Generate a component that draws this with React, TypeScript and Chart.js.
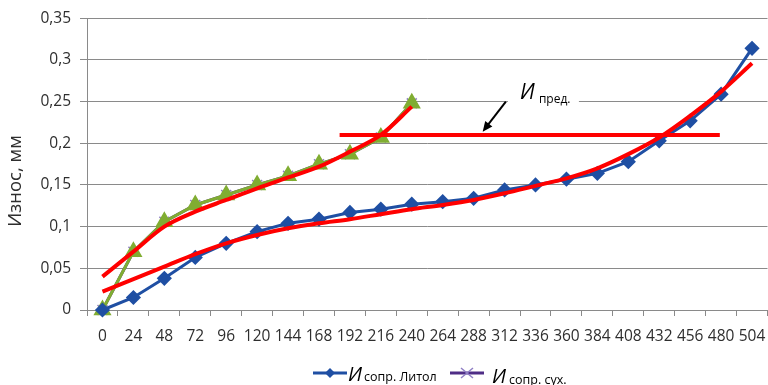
import { useEffect, useRef } from "react";
import { Chart, registerables } from "chart.js";

Chart.register(...registerables);

// Running time, h
const hours = [0, 24, 48, 72, 96, 120, 144, 168, 192, 216, 240, 264, 288, 312, 336, 360, 384, 408, 432, 456, 480, 504];

// Wear of the bushing with Litol grease, mm
const wearLitol = [0, 0.015, 0.038, 0.063, 0.08, 0.094, 0.104, 0.109, 0.117, 0.121, 0.127, 0.13, 0.134, 0.144, 0.15, 0.157, 0.164, 0.178, 0.203, 0.227, 0.259, 0.314];

// Wear of the bushing running dry, mm
const wearDry = [0, 0.07, 0.106, 0.126, 0.138, 0.15, 0.161, 0.175, 0.187, 0.207, 0.248];
const wearDryRun = [0, 0.07, 0.106, 0.126, 0.138, 0.15, 0.161, 0.175, 0.187, 0.207, 0.248];

// Fitted trend curves
const trendDry = [0.04, 0.07, 0.1, 0.118, 0.132, 0.146, 0.159, 0.172, 0.19, 0.21, 0.244];
const trendLitol = [0.022, 0.037, 0.052, 0.067, 0.08, 0.09, 0.098, 0.104, 0.109, 0.115, 0.121, 0.126, 0.132, 0.14, 0.149, 0.158, 0.17, 0.187, 0.207, 0.233, 0.262, 0.296];

// Limiting wear level and the hours it spans
const wearLimit = 0.21;
const limitFrom = 184;
const limitTo = 479;

// Callout for the limit line: arrow tail/tip and label anchor (hours, mm)
const arrowTail = { x: 313, y: 0.25 };
const arrowTip = { x: 295, y: 0.214 };
const limitLabelAt = { x: 327, y: 0.2535 };

const yTicks = [0, 0.05, 0.1, 0.15, 0.2, 0.25, 0.3, 0.35];

const FONT = "'Open Sans', 'Liberation Sans', sans-serif";
const BLUE = "#1f4fa3";
const PURPLE = "#4f2d86";
const PURPLE_MARK = "#8f7fc4";
const GREEN = "#80ad32";
const RED = "#ff0000";
const GRID = "#8a8a8a";
const TEXT = "#2e2e2e";

const fmt = (v: number) => String(Number(v.toFixed(2))).replace(".", ",");

const decorations = {
  id: "decorations",
  afterDraw(chart: any) {
    const ctx = chart.ctx as CanvasRenderingContext2D;
    const sx = chart.scales.x2;
    const sy = chart.scales.y;

    // Y axis title
    ctx.save();
    ctx.translate(16, 181);
    ctx.rotate(-Math.PI / 2);
    ctx.fillStyle = TEXT;
    ctx.font = `18.5px ${FONT}`;
    ctx.textAlign = "center";
    ctx.textBaseline = "middle";
    ctx.fillText("Износ, мм", 0, 0);
    ctx.restore();

    // Limit-line callout
    const lx = sx.getPixelForValue(limitLabelAt.x);
    const ly = sy.getPixelForValue(limitLabelAt.y);
    ctx.save();
    ctx.fillStyle = "#ffffff";
    ctx.fillRect(lx - 16, ly - 18, 71, 24);
    ctx.fillStyle = "#000000";
    ctx.textBaseline = "alphabetic";
    ctx.textAlign = "left";
    ctx.font = `italic 21px ${FONT}`;
    ctx.fillText("И", lx - 4, ly);
    ctx.font = `12px ${FONT}`;
    ctx.fillText("пред.", lx + 15, ly + 4);

    const tx = sx.getPixelForValue(arrowTail.x);
    const ty = sy.getPixelForValue(arrowTail.y);
    const hx = sx.getPixelForValue(arrowTip.x);
    const hy = sy.getPixelForValue(arrowTip.y);
    const ang = Math.atan2(hy - ty, hx - tx);
    ctx.strokeStyle = "#000000";
    ctx.lineWidth = 2;
    ctx.beginPath();
    ctx.moveTo(tx, ty);
    ctx.lineTo(hx - 6 * Math.cos(ang), hy - 6 * Math.sin(ang));
    ctx.stroke();
    ctx.beginPath();
    ctx.moveTo(hx, hy);
    ctx.lineTo(hx - 10 * Math.cos(ang) + 4.5 * Math.sin(ang), hy - 10 * Math.sin(ang) - 4.5 * Math.cos(ang));
    ctx.lineTo(hx - 10 * Math.cos(ang) - 4.5 * Math.sin(ang), hy - 10 * Math.sin(ang) + 4.5 * Math.cos(ang));
    ctx.closePath();
    ctx.fillStyle = "#000000";
    ctx.fill();
    ctx.restore();

    // Legend
    const ly2 = 373;
    ctx.save();
    // Litol entry
    ctx.strokeStyle = BLUE;
    ctx.lineWidth = 3;
    ctx.beginPath();
    ctx.moveTo(313, ly2);
    ctx.lineTo(347, ly2);
    ctx.stroke();
    ctx.fillStyle = BLUE;
    ctx.beginPath();
    ctx.moveTo(330, ly2 - 5);
    ctx.lineTo(335, ly2);
    ctx.lineTo(330, ly2 + 5);
    ctx.lineTo(325, ly2);
    ctx.closePath();
    ctx.fill();
    ctx.fillStyle = "#000000";
    ctx.textBaseline = "alphabetic";
    ctx.font = `italic 20px ${FONT}`;
    ctx.fillText("И", 348, 381);
    ctx.font = `12.5px ${FONT}`;
    ctx.fillText("сопр. Литол", 364, 381);
    // Dry entry
    ctx.strokeStyle = PURPLE;
    ctx.lineWidth = 3;
    ctx.beginPath();
    ctx.moveTo(450, ly2);
    ctx.lineTo(484, ly2);
    ctx.stroke();
    ctx.strokeStyle = PURPLE_MARK;
    ctx.lineWidth = 1.5;
    ctx.beginPath();
    ctx.moveTo(461, ly2 - 5);
    ctx.lineTo(473, ly2 + 5);
    ctx.moveTo(473, ly2 - 5);
    ctx.lineTo(461, ly2 + 5);
    ctx.stroke();
    ctx.fillStyle = "#000000";
    ctx.font = `italic 20px ${FONT}`;
    ctx.fillText("И", 492, 383);
    ctx.font = `12.5px ${FONT}`;
    ctx.fillText("сопр. сух.", 509, 384);
    ctx.restore();
  },
};

export default function App() {
  const canvasRef = useRef<HTMLCanvasElement | null>(null);

  useEffect(() => {
    if (!canvasRef.current) return;
    const chart = new Chart(canvasRef.current, {
      type: "line",
      data: {
        labels: hours.map(String),
        datasets: [
          {
            label: "И сопр. сух.",
            data: wearDry,
            borderColor: PURPLE,
            backgroundColor: PURPLE_MARK,
            pointBorderColor: PURPLE_MARK,
            pointStyle: "crossRot",
            pointRadius: 7,
            pointBorderWidth: 1.5,
            borderWidth: 3,
            order: 6,
            clip: false,
          },
          {
            label: "dry run",
            data: wearDryRun,
            borderColor: GREEN,
            backgroundColor: GREEN,
            pointBorderColor: GREEN,
            pointStyle: "triangle",
            pointRadius: 7.5,
            borderWidth: 3,
            order: 5,
            clip: false,
          },
          {
            label: "И сопр. Литол",
            data: wearLitol,
            borderColor: BLUE,
            backgroundColor: BLUE,
            pointBorderColor: BLUE,
            pointStyle: "rectRot",
            pointRadius: 5.5,
            borderWidth: 3,
            order: 4,
            clip: false,
          },
          {
            label: "trend dry",
            data: trendDry,
            borderColor: RED,
            borderWidth: 4,
            pointRadius: 0,
            cubicInterpolationMode: "monotone",
            order: 3,
          },
          {
            label: "trend Litol",
            data: trendLitol,
            borderColor: RED,
            borderWidth: 4,
            pointRadius: 0,
            cubicInterpolationMode: "monotone",
            order: 2,
          },
          {
            label: "И пред.",
            data: [
              { x: limitFrom, y: wearLimit },
              { x: limitTo, y: wearLimit },
            ],
            xAxisID: "x2",
            borderColor: RED,
            borderWidth: 4,
            pointRadius: 0,
            order: 1,
          } as any,
        ],
      },
      options: {
        animation: false,
        responsive: false,
        layout: { padding: { top: 18, left: 0, right: 0, bottom: 0 } },
        plugins: { legend: { display: false }, tooltip: { enabled: false } },
        scales: {
          x: {
            type: "category",
            offset: true,
            grid: {
              display: true,
              offset: true,
              drawOnChartArea: false,
              drawTicks: true,
              tickLength: 6,
              color: GRID,
            },
            border: { color: GRID, width: 1 },
            ticks: {
              autoSkip: false,
              maxRotation: 0,
              color: TEXT,
              padding: 11,
              font: { family: FONT, size: 15.5 },
            },
            afterFit: (s: any) => {
              s.height = 75;
            },
          },
          x2: { type: "linear", display: false, min: -12, max: 516 },
          y: {
            min: 0,
            max: 0.35,
            afterBuildTicks: (s: any) => {
              s.ticks = yTicks.map((v) => ({ value: v }));
            },
            grid: { color: GRID, tickLength: 7, drawTicks: true },
            border: { color: GRID, width: 1 },
            ticks: {
              color: TEXT,
              padding: 9,
              font: { family: FONT, size: 15.5 },
              callback: (v: any) => fmt(Number(v)),
            },
            afterFit: (s: any) => {
              s.width = 87;
            },
          },
        },
      },
      plugins: [decorations],
    });
    return () => chart.destroy();
  }, []);

  return (
    <div style={{ position: "fixed", left: 0, top: 0, width: 768, height: 385, background: "#fff", overflow: "hidden" }}>
      <canvas ref={canvasRef} width={778} height={385} style={{ width: 778, height: 385, display: "block" }} />
    </div>
  );
}
